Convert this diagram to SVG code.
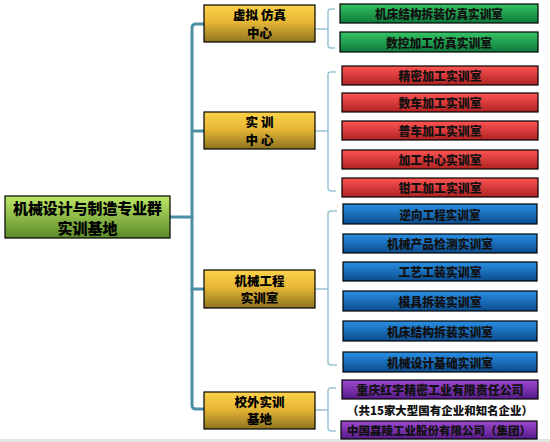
<svg xmlns="http://www.w3.org/2000/svg" width="550" height="442" viewBox="0 0 550 442">
<defs>
<linearGradient id="gRoot" x1="0" y1="0" x2="0" y2="1"><stop offset="0" stop-color="#bde766"/><stop offset="1" stop-color="#5b8a28"/></linearGradient>
<linearGradient id="gGold" x1="0" y1="0" x2="0" y2="1"><stop offset="0" stop-color="#fbd24a"/><stop offset="0.45" stop-color="#e8b836"/><stop offset="1" stop-color="#8e7420"/></linearGradient>
<linearGradient id="gGreen" x1="0" y1="0" x2="0" y2="1"><stop offset="0" stop-color="#36c466"/><stop offset="1" stop-color="#0d7a3a"/></linearGradient>
<linearGradient id="gRed" x1="0" y1="0" x2="0" y2="1"><stop offset="0" stop-color="#ff5454"/><stop offset="1" stop-color="#b02222"/></linearGradient>
<linearGradient id="gBlue" x1="0" y1="0" x2="0" y2="1"><stop offset="0" stop-color="#2b8fe4"/><stop offset="1" stop-color="#0a4c8e"/></linearGradient>
<linearGradient id="gPurple" x1="0" y1="0" x2="0" y2="1"><stop offset="0" stop-color="#9c4ad2"/><stop offset="1" stop-color="#561a86"/></linearGradient>
</defs>
<style>
text{font-family:"Noto Sans CJK SC","Noto Sans CJK TC",sans-serif;font-weight:900;text-anchor:middle;dominant-baseline:central;fill:#000}
.box{stroke:#000;stroke-width:1.2}
.root{font-size:15px}
.mid{font-size:12.5px}
.leaf{font-size:12.5px;fill:#111}
.sm{font-size:11.5px}
.trunk{fill:none;stroke:#4a8fa6;stroke-width:3;stroke-linecap:round}
.br{fill:none;stroke:#9cc4d2;stroke-width:1.5}
</style>
<rect x="0" y="439" width="550" height="3" fill="#e2e2e2"/>
<g id="connectors">
<path class="trunk" d="M204,24 H196 Q192,24 192,28 V405 Q192,409 196,409 H204"/>
<path class="trunk" d="M192,131 H204 M192,289 H204 M170,217 H192"/>
<path class="br" d="M315,29 H328 M335,9 H331 Q328,9 328,12 V45 Q328,48 331,48 H335"/>
<path class="br" d="M315,131 H328 M336,72 H331 Q328,72 328,75 V188 Q328,191 331,191 H336"/>
<path class="br" d="M315,289 H328 M337,211 H331 Q328,211 328,214 V362 Q328,365 331,365 H337"/>
<path class="br" d="M315,410 H328 M336,388 H331 Q328,388 328,391 V428 Q328,431 331,431 H336"/>
</g>
<g id="root"><rect class="box" x="5" y="196" width="165" height="42" fill="url(#gRoot)"/><text class="root" x="87.5" y="207.5" textLength="149" lengthAdjust="spacingAndGlyphs">机械设计与制造专业群</text><text class="root" x="87.5" y="227">实训基地</text></g>
<g id="m1"><rect class="box" x="204" y="5" width="111" height="37" fill="url(#gGold)"/><text class="mid" x="259.5" y="14.5">虚拟 仿真</text><text class="mid" x="259.5" y="32">中心</text></g>
<g id="m2"><rect class="box" x="204" y="112" width="111" height="37" fill="url(#gGold)"/><text class="mid" x="259.5" y="121.5">实 训</text><text class="mid" x="259.5" y="139">中 心</text></g>
<g id="m3"><rect class="box" x="204" y="270" width="111" height="38" fill="url(#gGold)"/><text class="mid" x="259.5" y="280">机械工程</text><text class="mid" x="259.5" y="297.5">实训室</text></g>
<g id="m4"><rect class="box" x="204" y="392" width="111" height="37" fill="url(#gGold)"/><text class="mid" x="259.5" y="401">校外实训</text><text class="mid" x="259.5" y="418.5">基地</text></g>
<g id="l1"><rect class="box" x="340" y="4" width="198" height="19" fill="url(#gGreen)"/><text class="leaf" x="439" y="13.5" textLength="128" lengthAdjust="spacingAndGlyphs">机床结构拆装仿真实训室</text></g>
<g id="l2"><rect class="box" x="340" y="32" width="198" height="20" fill="url(#gGreen)"/><text class="leaf" x="439" y="42" textLength="106" lengthAdjust="spacingAndGlyphs">数控加工仿真实训室</text></g>
<g id="l3"><rect class="box" x="342" y="66" width="196" height="19" fill="url(#gRed)"/><text class="leaf" x="440" y="75.5" textLength="83" lengthAdjust="spacingAndGlyphs">精密加工实训室</text></g>
<g id="l4"><rect class="box" x="342" y="93" width="196" height="19" fill="url(#gRed)"/><text class="leaf" x="440" y="102.5" textLength="83" lengthAdjust="spacingAndGlyphs">数车加工实训室</text></g>
<g id="l5"><rect class="box" x="342" y="121" width="196" height="19" fill="url(#gRed)"/><text class="leaf" x="440" y="130.5" textLength="83" lengthAdjust="spacingAndGlyphs">普车加工实训室</text></g>
<g id="l6"><rect class="box" x="342" y="150" width="196" height="19" fill="url(#gRed)"/><text class="leaf" x="440" y="159.5" textLength="83" lengthAdjust="spacingAndGlyphs">加工中心实训室</text></g>
<g id="l7"><rect class="box" x="342" y="178" width="196" height="19" fill="url(#gRed)"/><text class="leaf" x="440" y="187.5" textLength="83" lengthAdjust="spacingAndGlyphs">钳工加工实训室</text></g>
<g id="l8"><rect class="box" x="343" y="204" width="194" height="20" fill="url(#gBlue)"/><text class="leaf" x="440" y="214" textLength="81" lengthAdjust="spacingAndGlyphs">逆向工程实训室</text></g>
<g id="l9"><rect class="box" x="343" y="234" width="194" height="19" fill="url(#gBlue)"/><text class="leaf" x="440" y="243.5" textLength="106" lengthAdjust="spacingAndGlyphs">机械产品检测实训室</text></g>
<g id="l10"><rect class="box" x="343" y="262" width="194" height="19" fill="url(#gBlue)"/><text class="leaf" x="440" y="271.5" textLength="83" lengthAdjust="spacingAndGlyphs">工艺工装实训室</text></g>
<g id="l11"><rect class="box" x="343" y="291" width="194" height="20" fill="url(#gBlue)"/><text class="leaf" x="440" y="301" textLength="83" lengthAdjust="spacingAndGlyphs">模具拆装实训室</text></g>
<g id="l12"><rect class="box" x="343" y="321" width="194" height="20" fill="url(#gBlue)"/><text class="leaf" x="440" y="331" textLength="106" lengthAdjust="spacingAndGlyphs">机床结构拆装实训室</text></g>
<g id="l13"><rect class="box" x="343" y="352" width="194" height="20" fill="url(#gBlue)"/><text class="leaf" x="440" y="362" textLength="106" lengthAdjust="spacingAndGlyphs">机械设计基础实训室</text></g>
<g id="l14"><rect class="box" x="342" y="380" width="196" height="19" fill="url(#gPurple)"/><text class="leaf" x="440" y="389.5" textLength="167" lengthAdjust="spacingAndGlyphs">重庆红宇精密工业有限责任公司</text></g>
<g id="note"><text class="leaf sm" x="440" y="410" textLength="186" lengthAdjust="spacingAndGlyphs">（共15家大型国有企业和知名企业）</text></g>
<g id="l15"><rect class="box" x="341" y="421" width="196" height="18" fill="url(#gPurple)"/><text class="leaf sm" x="439" y="430" textLength="184" lengthAdjust="spacingAndGlyphs">中国嘉陵工业股份有限公司（集团）</text></g>
</svg>
